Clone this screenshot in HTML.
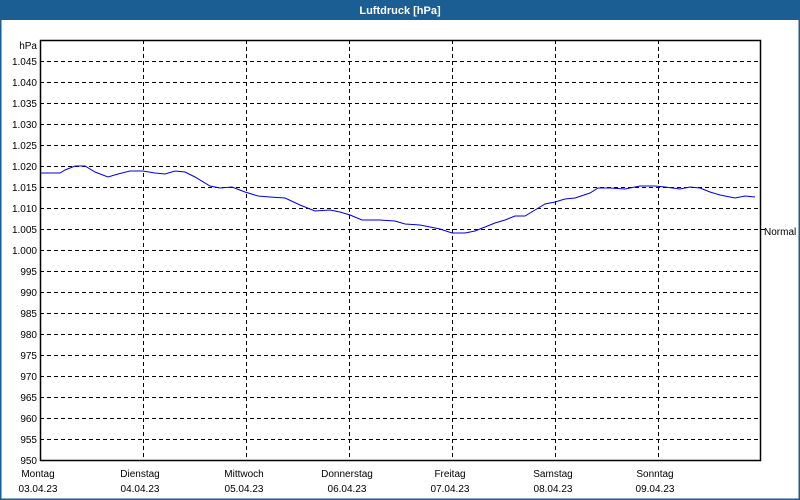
<!DOCTYPE html>
<html><head><meta charset="utf-8"><style>
html,body{margin:0;padding:0;background:#fff}
svg{display:block;font-family:"Liberation Sans",sans-serif}
</style></head><body>
<svg width="800" height="500" viewBox="0 0 800 500" xmlns="http://www.w3.org/2000/svg">
<rect x="0" y="0" width="800" height="500" fill="#fff"/>
<rect x="0.5" y="0.5" width="799" height="499" fill="none" stroke="#1a5e94" stroke-width="2"/>
<rect x="0" y="0" width="800" height="20" fill="#1a5e94"/>
<text x="400" y="14" fill="#fff" font-size="11" font-weight="bold" text-anchor="middle">Luftdruck [hPa]</text>
<g stroke="#000" stroke-width="1" stroke-dasharray="4,3" fill="none">
<path d="M40 61.5H760M40 82.5H760M40 103.5H760M40 124.5H760M40 145.5H760M40 166.5H760M40 187.5H760M40 208.5H760M40 229.5H760M40 250.5H760M40 271.5H760M40 292.5H760M40 313.5H760M40 334.5H760M40 355.5H760M40 376.5H760M40 397.5H760M40 418.5H760M40 439.5H760"/>
<path d="M143.5 40V460M246.5 40V460M349.5 40V460M452.5 40V460M555.5 40V460M658.5 40V460"/>
</g>
<rect x="40.5" y="40.5" width="720" height="420" fill="none" stroke="#000" stroke-width="1.5"/>
<path d="M760 229.5H765" stroke="#000"/>
<g font-size="10" fill="#000" text-anchor="end">
<text x="37" y="49">hPa</text>
<text x="37" y="65">1.045</text><text x="37" y="86">1.040</text><text x="37" y="107">1.035</text><text x="37" y="128">1.030</text><text x="37" y="149">1.025</text><text x="37" y="170">1.020</text><text x="37" y="191">1.015</text><text x="37" y="212">1.010</text><text x="37" y="233">1.005</text><text x="37" y="254">1.000</text><text x="37" y="275">995</text><text x="37" y="296">990</text><text x="37" y="317">985</text><text x="37" y="338">980</text><text x="37" y="359">975</text><text x="37" y="380">970</text><text x="37" y="401">965</text><text x="37" y="422">960</text><text x="37" y="443">955</text><text x="37" y="464">950</text>
</g>
<text x="764" y="235" font-size="10">Normal</text>
<g font-size="10" fill="#000" text-anchor="middle">
<text x="38" y="477">Montag</text><text x="38" y="492">03.04.23</text>
<text x="140" y="477">Dienstag</text><text x="140" y="492">04.04.23</text>
<text x="244" y="477">Mittwoch</text><text x="244" y="492">05.04.23</text>
<text x="347" y="477">Donnerstag</text><text x="347" y="492">06.04.23</text>
<text x="450" y="477">Freitag</text><text x="450" y="492">07.04.23</text>
<text x="553" y="477">Samstag</text><text x="553" y="492">08.04.23</text>
<text x="655" y="477">Sonntag</text><text x="655" y="492">09.04.23</text>
</g>
<polyline fill="none" stroke="#0000e0" stroke-width="1" points="41,173 60,173 65,170 75,166 85,166 95,172 108,177 118,174 130,171 143,171 155,173 165,174 175,171 185,172 195,177 210,186 220,188 232,187 245,192 258,196 270,197 285,198 300,205 315,211 330,210 340,212 350,215 362,220 380,220 395,221 405,224 420,225 430,227 440,229 452,233 465,233 475,231 485,227 495,223 505,220 515,216 525,216 535,210 545,204 555,202 565,199 575,198 590,193 598,188 610,188 625,189 640,186 655,186 665,187 680,189 690,187 700,188 710,192 720,195 735,198 745,196 755,197"/>
</svg>
</body></html>
